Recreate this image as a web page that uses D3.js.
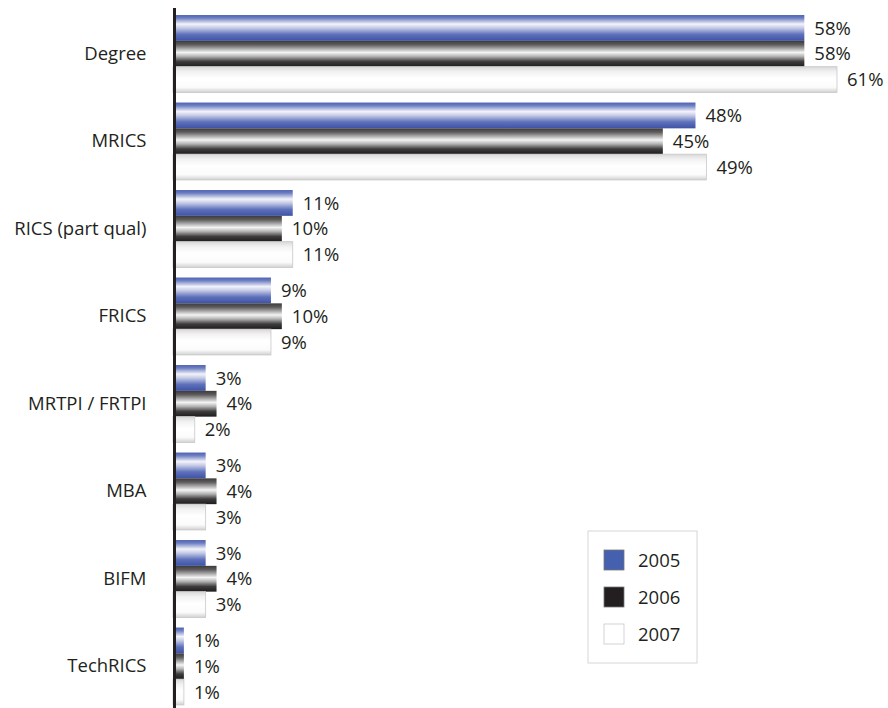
<!DOCTYPE html>
<html><head><meta charset="utf-8">
<script src="https://cdn.jsdelivr.net/npm/d3@7"></script>
<style>body{margin:0;background:#fff}text{font-family:"Open Sans","Noto Sans",sans-serif;fill:#231f20}</style>
</head><body>
<svg id="c" width="888" height="708"></svg>
<script>
const categories = ["Degree","MRICS","RICS (part qual)","FRICS","MRTPI / FRTPI","MBA","BIFM","TechRICS"];
const seriesNames = ["2005","2006","2007"];
const v2005 = [58,48,11,9,3,3,3,1];
const v2006 = [58,45,10,10,4,4,4,1];
const v2007 = [61,49,11,9,2,3,3,1];
const values = [v2005,v2006,v2007];

const svg = d3.select("#c");
const axisX = 174.5;
const x = d3.scaleLinear().domain([0,61]).range([173, 837]);
const y = d3.scaleBand().domain(categories).range([10,710]).paddingInner(0.115).paddingOuter(0.0575);
const ys = d3.scaleBand().domain(seriesNames).range([0,y.bandwidth()]);

const defs = svg.append("defs");
function grad(id, stops){
  const g = defs.append("linearGradient").attr("id",id).attr("x1",0).attr("x2",0).attr("y1",0).attr("y2",1);
  stops.forEach(s=>g.append("stop").attr("offset",s[0]).attr("stop-color",s[1]));
}
grad("g0",[[0,"#4f62b2"],[0.12,"#6e7fc2"],[0.35,"#f2f3fa"],[0.5,"#c5cbe6"],[0.75,"#5f71bb"],[1,"#3d53a6"]]);
grad("g1",[[0,"#3c3a3b"],[0.15,"#5e5c5d"],[0.45,"#f4f4f4"],[0.6,"#b5b5b5"],[0.8,"#3e3c3d"],[1,"#1f1c1d"]]);
grad("g2",[[0,"#d8d8d8"],[0.2,"#f2f2f2"],[0.45,"#ffffff"],[0.8,"#fbfbfb"],[1,"#d0d0d0"]]);
const strokes = ["none","none","#c8c8c8"];

const g = svg.append("g");
categories.forEach((c,i)=>{
  seriesNames.forEach((s,j)=>{
    const v = values[j][i];
    const by = y(c)+ys(s);
    g.append("rect").attr("x",x(0)).attr("y",by).attr("width",x(v)-x(0)).attr("height",ys.bandwidth())
      .attr("fill",`url(#g${j})`).attr("stroke",strokes[j]).attr("stroke-width",0.8);
    g.append("text").attr("x",x(v)+10).attr("y",by+ys.bandwidth()/2).attr("dy","0.36em")
      .attr("font-size",18.5).text(v+"%");
  });
});

const axis = d3.axisLeft(y).tickSize(0).tickPadding(28);
const ag = svg.append("g").attr("transform",`translate(${axisX},0)`).call(axis);
ag.select(".domain").attr("stroke","#231f20").attr("stroke-width",3).attr("d","M0,8V708");
ag.selectAll("text").attr("font-size",18.5).style("font-family",'"Open Sans","Noto Sans",sans-serif').attr("fill","#231f20");

// legend
const lg = svg.append("g").attr("transform","translate(588,531)");
lg.append("rect").attr("width",109).attr("height",132).attr("fill","#fff").attr("stroke","#d6d6d6");
const lcol = ["#4560ae","#231f20","#ffffff"];
seriesNames.forEach((s,j)=>{
  const yy = 19 + j*37;
  lg.append("rect").attr("x",16).attr("y",yy).attr("width",20).attr("height",20).attr("fill",lcol[j]).attr("stroke",j==2?"#c8c8c8":"#777").attr("stroke-width",0.8);
  lg.append("text").attr("x",50).attr("y",yy+10).attr("dy","0.36em").attr("font-size",18.5).text(s);
});
</script>
</body></html>
